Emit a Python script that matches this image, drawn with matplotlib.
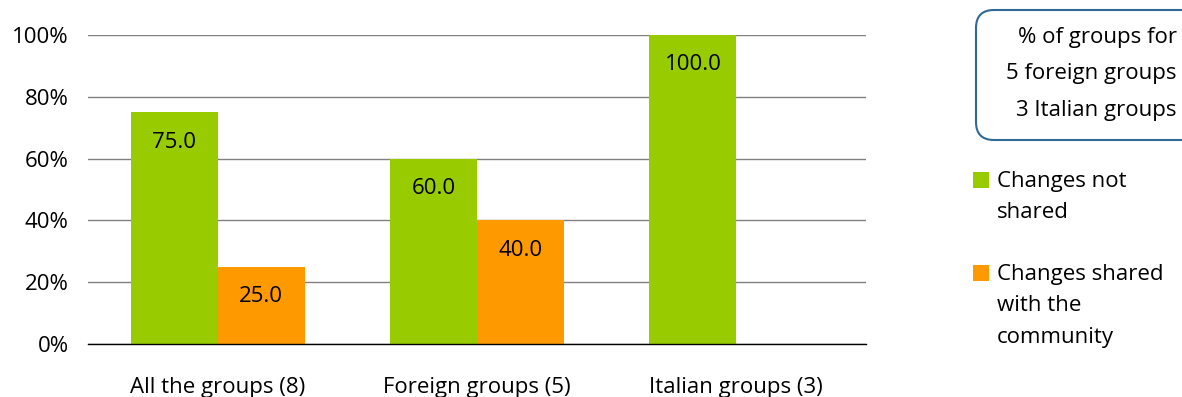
import matplotlib
matplotlib.use("Agg")
import matplotlib.pyplot as plt
import matplotlib.patches as mpatches
import numpy as np

categories = ["All the groups (8)", "Foreign groups (5)", "Italian groups (3)"]
not_shared = [75.0, 60.0, 100.0]
shared = [25.0, 40.0, None]
series_names = ["Changes not\nshared", "Changes shared\nwith the\ncommunity"]
yticks = [0, 20, 40, 60, 80, 100]
box_text = "% of groups for\n5 foreign groups\n3 Italian groups"

GREEN = "#99CC00"
ORANGE = "#FF9900"
FONT = "Open Sans"
FS = 16

plt.rcParams["font.family"] = [FONT, "DejaVu Sans"]

W, H = 1182, 397
fig = plt.figure(figsize=(W/100, H/100), dpi=100)
ax = fig.add_axes([88/W, 1-344/H, (866-88)/W, (344-35)/H])

x = np.arange(len(categories))
w = 0.335
ns_vals = np.array(not_shared, dtype=float)
sh_vals = np.array([v if v is not None else np.nan for v in shared], dtype=float)
b1 = ax.bar(x - w/2, ns_vals, w, color=GREEN, label=series_names[0], zorder=3)
mask = ~np.isnan(sh_vals)
b2 = ax.bar(x[mask] + w/2, sh_vals[mask], w, color=ORANGE, label=series_names[1], zorder=3)

for bars in (b1, b2):
    for r in bars:
        h = r.get_height()
        ax.annotate(f"{h:.1f}", (r.get_x() + r.get_width()/2, h), xytext=(0, -21.5),
                    textcoords="offset points", ha="center", va="center",
                    fontsize=FS, color="black", zorder=4)

ax.set_xlim(-0.5, len(categories) - 0.5)
ax.set_ylim(0, 100)
ax.set_yticks(yticks)
ax.set_yticklabels([f"{v}%" for v in yticks], fontsize=FS)
ax.set_xticks(x)
ax.set_xticklabels(categories, fontsize=FS)
ax.tick_params(axis="both", length=0)
ax.tick_params(axis="y", pad=14)
ax.tick_params(axis="x", pad=24)
ax.yaxis.grid(True, color="#808080", linewidth=1.0, zorder=0)
for s in ["top", "right", "left"]:
    ax.spines[s].set_visible(False)
ax.spines["bottom"].set_color("black")
ax.spines["bottom"].set_linewidth(1.0)
ax.spines["bottom"].set_zorder(5)

# rounded info box (inch coords)
box = mpatches.FancyBboxPatch((976/100 + 0.12, (H-140)/100 + 0.12), 2.4, 1.3 - 0.24,
                              boxstyle="round,pad=0.12,rounding_size=0.18",
                              transform=fig.dpi_scale_trans, facecolor="white",
                              edgecolor="#2E6A94", linewidth=1.5)
fig.patches.append(box)
fig.text(1177/W, 1-74/H, box_text, ha="right", va="center", fontsize=FS,
         linespacing=1.95)

# manual legend: handle aligned with first line of label
legend_items = [(b1, series_names[0], 180), (b2, series_names[1], 273)]
for bars, label, yc in legend_items:
    color = bars.patches[0].get_facecolor()
    sq = mpatches.Rectangle((973/100, (H - yc - 8)/100), 0.16, 0.16,
                            transform=fig.dpi_scale_trans, facecolor=color,
                            edgecolor="none")
    fig.patches.append(sq)
    fig.text(997/W, 1-(yc-9)/H, label, ha="left", va="top", fontsize=FS,
             linespacing=1.65)

fig.savefig("out.png", dpi=100)
